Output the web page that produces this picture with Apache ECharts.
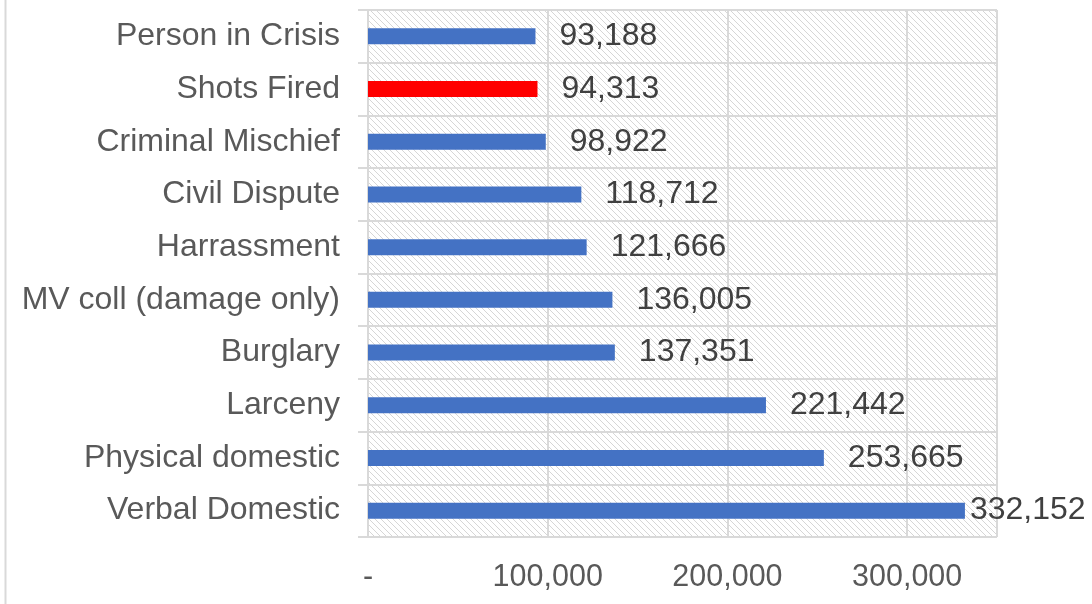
<!DOCTYPE html>
<html><head><meta charset="utf-8">
<script src="https://cdn.jsdelivr.net/npm/echarts@6/dist/echarts.min.js"></script>
<style>html,body{margin:0;padding:0;background:#fff}#c{width:1092px;height:604px}</style>
</head><body><div id="c"></div>
<script>
const categories = ["Verbal Domestic","Physical domestic","Larceny","Burglary","MV coll (damage only)","Harrassment","Civil Dispute","Criminal Mischief","Shots Fired","Person in Crisis"];
const values = [332152,253665,221442,137351,136005,121666,118712,98922,94313,93188];
const highlight = "Shots Fired";
const tickLabels = {0:"-",100000:"100,000",200000:"200,000",300000:"300,000"};

const P = 6;
const pc = document.createElement('canvas');
pc.width = P; pc.height = P;
const g = pc.getContext('2d');
g.fillStyle = '#ffffff'; g.fillRect(0,0,P,P);
g.fillStyle = '#d6d6d6';
for (let i = 0; i < P; i++) { g.fillRect(i, i, 1, 1); }

const chart = echarts.init(document.getElementById('c'), null, {renderer:'canvas'});
const fmt = v => v.toLocaleString('en-US');
const FONT = 'Liberation Sans, Arial';
chart.setOption({
  animation:false,
  graphic:[{type:'line', shape:{x1:5.5,y1:0,x2:5.5,y2:604}, style:{stroke:'#d9d9d9', lineWidth:2}}],
  grid:{left:368, right:95, top:10, bottom:67, show:true, borderWidth:0, backgroundColor:{image:pc, repeat:'repeat'}},
  xAxis:{type:'value', min:0, max:350000, interval:100000,
    axisLine:{show:false}, axisTick:{show:false},
    splitLine:{show:true, lineStyle:{color:'#d9d9d9', width:2}},
    axisLabel:{showMaxLabel:false, margin:25, color:'#595959', fontSize:30.5, fontFamily:FONT,
      formatter:v => tickLabels[v] !== undefined ? tickLabels[v] : ''}},
  yAxis:{type:'category', data:categories, boundaryGap:true,
    axisLine:{show:true, lineStyle:{color:'#d9d9d9', width:2}},
    axisTick:{show:true, length:10, lineStyle:{color:'#d9d9d9', width:2}},
    splitLine:{show:true, lineStyle:{color:'#d9d9d9', width:2}},
    axisLabel:{margin:28, color:'#595959', fontSize:32, fontFamily:FONT, padding:[5,0,0,0]}},
  series:[{type:'bar', barWidth:16,
    data: values.map((v,i)=>{
      const d = {value:v, itemStyle:{color: categories[i]===highlight ? '#FF0000' : '#4472C4'}};
      if (i === 0) d.label = {distance:5};
      return d;
    }),
    label:{show:true, position:'right', distance:24, color:'#404040', fontSize:32, fontFamily:FONT, padding:[6,0,0,0],
      formatter:p=>fmt(p.value)}}]
});
</script></body></html>
